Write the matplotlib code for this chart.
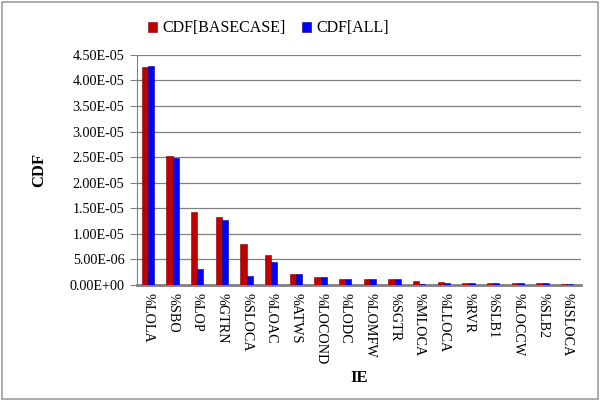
import matplotlib
matplotlib.use("Agg")
import matplotlib.pyplot as plt
import numpy as np
from matplotlib.patches import Rectangle

categories = ["%LOLA", "%SBO", "%LOP", "%GTRN", "%SLOCA", "%LOAC", "%ATWS", "%LOCOND",
              "%LODC", "%LOMFW", "%SGTR", "%MLOCA", "%LLOCA", "%RVR", "%SLB1", "%LOCCW",
              "%SLB2", "%ISLOCA"]
cdf_base = [4.27e-5, 2.52e-5, 1.43e-5, 1.33e-5, 7.9e-6, 5.9e-6, 2.0e-6, 1.6e-6,
            1.2e-6, 1.2e-6, 1.1e-6, 7e-7, 5e-7, 3e-7, 3e-7, 3e-7, 3e-7, 1e-7]
cdf_all = [4.28e-5, 2.49e-5, 3.1e-6, 1.27e-5, 1.7e-6, 4.4e-6, 2.0e-6, 1.6e-6,
           1.2e-6, 1.1e-6, 1.1e-6, 2e-7, 4e-7, 3e-7, 3e-7, 3e-7, 3e-7, 1e-7]
yticks = [0, 5e-6, 1e-5, 1.5e-5, 2e-5, 2.5e-5, 3e-5, 3.5e-5, 4e-5, 4.5e-5]
ytick_labels = ["0.00E+00", "5.00E-06", "1.00E-05", "1.50E-05", "2.00E-05",
                "2.50E-05", "3.00E-05", "3.50E-05", "4.00E-05", "4.50E-05"]

serif = ["Liberation Serif", "DejaVu Serif"]
plt.rcParams["font.family"] = serif

fig = plt.figure(figsize=(6.0, 4.01), dpi=100)
fig.patch.set_facecolor("white")
# outer border
fig.add_artist(Rectangle((0.004, 0.004), 0.992, 0.99, transform=fig.transFigure,
                         fill=False, edgecolor="#a0a0a0", linewidth=1.2))

ax = fig.add_axes([0.228, 0.29, 0.74, 0.573])
x = np.arange(len(categories))
w = 0.25
red = "#C00000"
blue = "#0000FF"
ax.bar(x - w / 2, cdf_base, width=w, color=red, edgecolor="#800000", linewidth=0.4,
       label="CDF[BASECASE]", zorder=3)
ax.bar(x + w / 2, cdf_all, width=w, color=blue, edgecolor="#00008B", linewidth=0.4,
       label="CDF[ALL]", zorder=3)

ax.set_xlim(-0.45, len(categories) - 0.45)
ax.set_ylim(0, 4.5e-5)
ax.set_yticks(yticks)
ax.set_yticklabels(ytick_labels, fontsize=10.2)
ax.set_xticks(x)
ax.set_xticklabels(categories, rotation=-90, fontsize=10.2, va="top", ha="center")
ax.tick_params(axis="x", length=0, pad=6)
ax.tick_params(axis="y", length=5, color="#808080", pad=4)
ax.grid(axis="y", color="#808080", linewidth=0.9, zorder=0)
for s in ["top", "right"]:
    ax.spines[s].set_visible(False)
ax.spines["left"].set_color("#808080")
ax.spines["bottom"].set_color("#808080")
ax.spines["bottom"].set_linewidth(2)

ax.set_ylabel("CDF", fontsize=12, fontweight="bold", labelpad=16)
ax.set_xlabel("IE", fontsize=12, fontweight="bold", labelpad=4)

fig.legend(loc="upper center", bbox_to_anchor=(0.447, 0.985), ncol=2, frameon=False,
           fontsize=11.5, handlelength=0.6, handleheight=0.6, handletextpad=0.3,
           columnspacing=1.0)

fig.savefig("out.png", dpi=100)
